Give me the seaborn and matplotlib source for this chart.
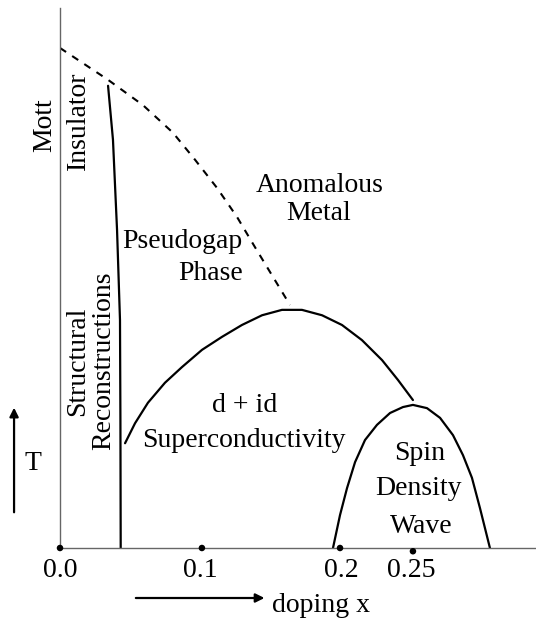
import numpy as np
import pandas as pd
import seaborn as sns
import matplotlib.pyplot as plt

# doping x vs temperature (arbitrary units, 0..1)
pg_x = [0.0, 0.0342, 0.0591, 0.0804, 0.0961, 0.1117, 0.1260, 0.1388, 0.1516, 0.1637]
pg_t = [0.926, 0.867, 0.820, 0.769, 0.719, 0.667, 0.613, 0.557, 0.502, 0.450]

struct_x = [0.0342, 0.0377, 0.0406, 0.0427, 0.0430, 0.0432]
struct_t = [0.856, 0.756, 0.589, 0.422, 0.237, 0.0]

sc_x = [0.0463, 0.0534, 0.0626, 0.0747, 0.0868, 0.1011, 0.1153, 0.1295, 0.1438,
        0.1580, 0.1722, 0.1865, 0.2007, 0.2149, 0.2292, 0.2406, 0.2512]
sc_t = [0.194, 0.231, 0.269, 0.306, 0.335, 0.367, 0.391, 0.413, 0.431,
        0.441, 0.441, 0.431, 0.413, 0.385, 0.348, 0.311, 0.274]

sdw_x = [0.1943, 0.1993, 0.2043, 0.2100, 0.2171, 0.2256, 0.2349, 0.2441, 0.2512,
         0.2612, 0.2705, 0.2797, 0.2868, 0.2932, 0.2989, 0.3060]
sdw_t = [0.0, 0.061, 0.111, 0.159, 0.200, 0.228, 0.250, 0.261, 0.265,
         0.259, 0.241, 0.209, 0.172, 0.130, 0.074, 0.0]

tick_x = [0.0, 0.1, 0.2, 0.25]
tick_labels = ["0.0", "0.1", "0.2", "0.25"]
dot_x = [0.0, 0.101, 0.1993, 0.2512]
dot_t = [0.0, 0.0, 0.0, -0.006]

sns.set_style("white")
plt.rcParams['font.family'] = ['Liberation Serif', 'DejaVu Serif']
plt.rcParams['text.color'] = 'black'
FS = 20

fig = plt.figure(figsize=(5.36, 6.2), dpi=100)
ax = fig.add_axes([60/536, 72/620, 476/536, 540/620])

# phase boundaries
sns.lineplot(x=pg_x, y=pg_t, sort=False, estimator=None, color='black', lw=1.5,
             linestyle=(0, (3.5, 3.5)), ax=ax)
for xs, ts in [(struct_x, struct_t), (sc_x, sc_t), (sdw_x, sdw_t)]:
    sns.lineplot(x=xs, y=ts, sort=False, estimator=None, color='black', lw=1.6,
                 solid_joinstyle='round', ax=ax)
sns.scatterplot(x=dot_x, y=dot_t, color='black', s=22, edgecolor='none', zorder=5,
                clip_on=False, ax=ax)

ax.set_xlim(0, 476/1405)
ax.set_ylim(0, 1)
for side in ['top', 'right']:
    ax.spines[side].set_visible(False)
for side in ['left', 'bottom']:
    ax.spines[side].set_color('#666666')
    ax.spines[side].set_linewidth(1.0)

ax.set_xticks(tick_x)
ax.set_xticklabels(tick_labels, fontsize=FS, color='black')
ax.set_yticks([])
ax.tick_params(axis='x', length=0, pad=7)

def label(x, y, s, ha='center', va='baseline', rot=0):
    ax.text(x, y, s, fontsize=FS, color='black', ha=ha, va=va, rotation=rot,
            clip_on=False)

# region labels
label(-0.0107, 0.783, "Mott", va='center', rot=90)
label(0.0128, 0.791, "Insulator", va='center', rot=90)
label(0.0125, 0.346, "Structural", va='center', rot=90)
label(0.031, 0.346, "Reconstructions", va='center', rot=90)

label(0.185, 0.659, "Anomalous")
label(0.1843, 0.607, "Metal")
label(0.1302, 0.5556, "Pseudogap", ha='right')
label(0.1302, 0.496, "Phase", ha='right')
label(0.1312, 0.252, "d + id")
label(0.1306, 0.187, "Superconductivity")
label(0.2562, 0.163, "Spin")
label(0.2552, 0.098, "Density")
label(0.2569, 0.028, "Wave")

# axis captions with arrows
label(-0.0192, 0.144, "T")
ax.annotate('', xy=(-0.0327, 0.265), xytext=(-0.0327, 0.061),
            arrowprops=dict(arrowstyle='-|>', color='black', lw=1.6, mutation_scale=13),
            annotation_clip=False)
label(0.1861, -0.1185, "doping x")
ax.annotate('', xy=(0.1475, -0.0926), xytext=(0.052, -0.0926),
            arrowprops=dict(arrowstyle='-|>', color='black', lw=1.6, mutation_scale=13),
            annotation_clip=False)

fig.savefig("out.png", dpi=100, facecolor='white')
